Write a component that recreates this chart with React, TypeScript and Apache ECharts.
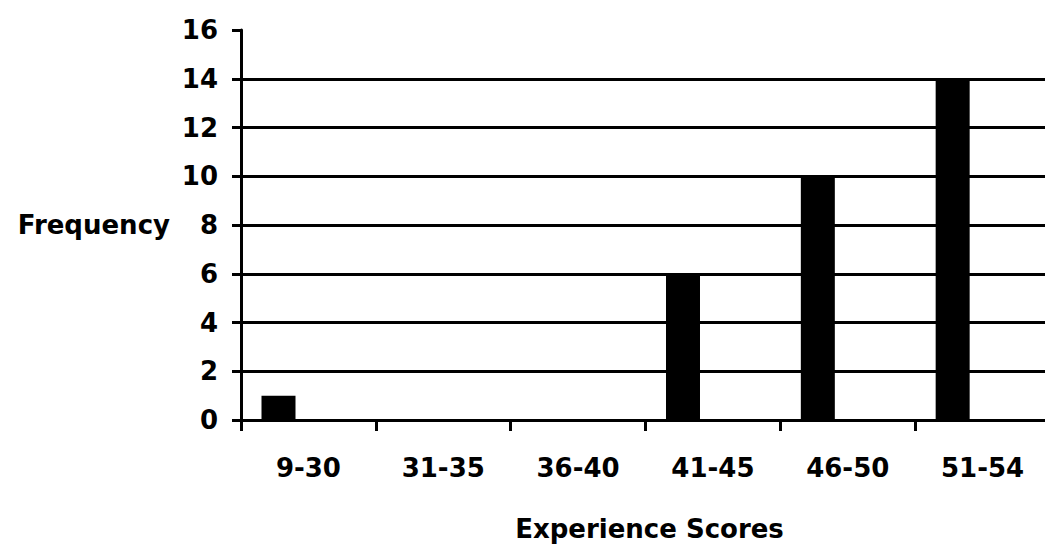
import React, { useEffect, useRef } from "react";
import * as echarts from "echarts";

const categories = ["9-30", "31-35", "36-40", "41-45", "46-50", "51-54"];
const frequency = [1, 0, 0, 6, 10, 14];
const emptySeries = [null, null, null, null, null, null];
const yTicks = { min: 0, max: 16, interval: 2 };
const xTitle = "Experience Scores";
const yTitle = "Frequency";

const FONT = "DejaVu Sans";

export default function App() {
  const ref = useRef<HTMLDivElement>(null);

  useEffect(() => {
    document.body.style.margin = "0";
    const chart = echarts.init(ref.current!, null, { renderer: "svg" });
    chart.setOption({
      animation: false,
      backgroundColor: "#ffffff",
      grid: { left: 241, width: 809, top: 30, bottom: 129, containLabel: false, outerBoundsMode: "none" },
      xAxis: {
        type: "category",
        data: categories,
        boundaryGap: true,
        name: xTitle,
        nameLocation: "middle",
        nameGap: 96,
        nameTextStyle: { fontFamily: FONT, fontWeight: "bold", fontSize: 26, color: "#000", padding: [0, 0, 0, 8] },
        axisLine: { show: true, lineStyle: { color: "#000", width: 3 } },
        axisTick: { show: true, length: 11, lineStyle: { color: "#000", width: 3 }, alignWithLabel: false },
        axisLabel: { fontFamily: FONT, fontWeight: "bold", fontSize: 26, color: "#000", margin: 35, interval: 0 },
        splitLine: { show: false },
      },
      yAxis: {
        type: "value",
        min: yTicks.min,
        max: yTicks.max,
        interval: yTicks.interval,
        name: yTitle,
        nameLocation: "middle",
        nameRotate: 0,
        nameGap: 71,
        nameTextStyle: { fontFamily: FONT, fontWeight: "bold", fontSize: 26, color: "#000" },
        axisLine: { show: true, lineStyle: { color: "#000", width: 3 } },
        axisTick: { show: true, length: 9, lineStyle: { color: "#000", width: 3 } },
        axisLabel: { fontFamily: FONT, fontWeight: "bold", fontSize: 26, color: "#000", margin: 23 },
        splitLine: { show: true, showMaxLine: false, lineStyle: { color: "#000", width: 3 } },
      },
      series: [
        {
          name: "Frequency",
          type: "bar",
          data: frequency,
          barWidth: 34,
          barGap: "76%",
          itemStyle: { color: "#000" },
        },
        {
          name: "Empty",
          type: "bar",
          data: emptySeries,
          barWidth: 34,
          itemStyle: { color: "#000" },
        },
      ],
    });
    return () => chart.dispose();
  }, []);

  return (
    <div
      ref={ref}
      style={{ position: "absolute", left: 0, top: 0, width: 1045, height: 549, background: "#fff" }}
    />
  );
}
